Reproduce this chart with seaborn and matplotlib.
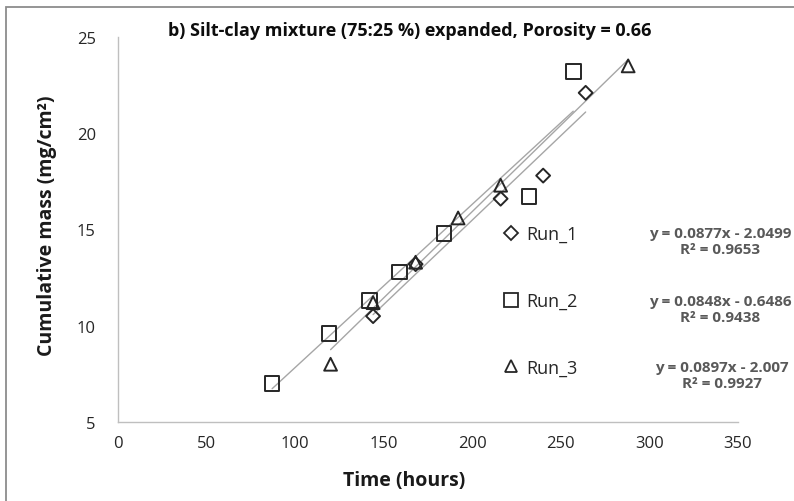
import numpy as np
import pandas as pd
import matplotlib
matplotlib.use("Agg")
import matplotlib.pyplot as plt
from matplotlib.lines import Line2D
from matplotlib.patches import Rectangle
import seaborn as sns

# Measured cumulative mass per run
run1_time = [144, 168, 216, 240, 264]
run1_mass = [10.5, 13.2, 16.6, 17.8, 22.1]
run2_time = [87, 119, 142, 159, 184, 232, 257]
run2_mass = [7.0, 9.6, 11.3, 12.8, 14.8, 16.7, 23.2]
run3_time = [120, 144, 168, 192, 216, 288]
run3_mass = [8.0, 11.2, 13.3, 15.6, 17.3, 23.5]

run_names = ["Run_1", "Run_2", "Run_3"]
# Linear trendline fits (slope, intercept, R²) for each run
fit_slope = [0.0877, 0.0848, 0.0897]
fit_intercept = [-2.0499, -0.6486, -2.007]
fit_r2 = [0.9653, 0.9438, 0.9927]

x_ticks = [0, 50, 100, 150, 200, 250, 300, 350]
y_ticks = [5, 10, 15, 20, 25]

title = "b) Silt-clay mixture (75:25 %) expanded, Porosity = 0.66"

sns.set_theme(style="white")
plt.rcParams["font.family"] = ["Open Sans", "DejaVu Sans"]

W, H = 794, 502
fig = plt.figure(figsize=(W / 100, H / 100), dpi=100)
fig.patch.set_facecolor("white")

def fx(px):
    return px / W

def fy(py):
    return 1 - py / H

ax = fig.add_axes([fx(118), fy(423), (738 - 118) / W, (423 - 38) / H])

frames = []
for name, t, m in zip(run_names,
                      [run1_time, run2_time, run3_time],
                      [run1_mass, run2_mass, run3_mass]):
    frames.append(pd.DataFrame({"run": name, "time": t, "mass": m}))
df = pd.concat(frames, ignore_index=True)

markers = {"Run_1": "D", "Run_2": "s", "Run_3": "^"}
sizes = {"Run_1": 50, "Run_2": 110, "Run_3": 85}
edge = "#262626"
line_grey = "#a6a6a6"

# trendlines over each run's own time range
for name, a, b in zip(run_names, fit_slope, fit_intercept):
    sub = df[df["run"] == name]
    xs = np.array([sub["time"].min(), sub["time"].max()])
    trend = pd.DataFrame({"time": xs, "mass": a * xs + b})
    sns.lineplot(data=trend, x="time", y="mass", ax=ax, color=line_grey,
                 linewidth=1.0, legend=False)

for name in run_names:
    sub = df[df["run"] == name]
    sns.scatterplot(data=sub, x="time", y="mass", ax=ax, marker=markers[name],
                    s=sizes[name], color=edge, linewidth=1.4, legend=False,
                    zorder=3)
for coll in ax.collections:
    coll.set_facecolor("none")
    coll.set_edgecolor(edge)

ax.set_xlim(0, 350)
ax.set_ylim(5, 25)
ax.set_xticks(x_ticks)
ax.set_yticks(y_ticks)
ax.set_xticklabels([str(v) for v in x_ticks])
ax.set_yticklabels([str(v) for v in y_ticks])
ax.tick_params(axis="both", which="major", labelsize=12, colors="#bfbfbf",
               labelcolor="#262626", length=6, width=1, direction="out")
ax.tick_params(axis="y", pad=10)
ax.tick_params(axis="x", pad=3)
sns.despine(ax=ax)
for side in ["left", "bottom"]:
    ax.spines[side].set_color("#bfbfbf")
    ax.spines[side].set_linewidth(1.0)
ax.grid(False)
ax.set_xlabel("")
ax.set_ylabel("")

fig.text(fx(404), fy(481), "Time (hours)", ha="center", va="center",
         fontsize=14, fontweight="bold", color="#1a1a1a")
fig.text(fx(47), fy(226), "Cumulative mass (mg/cm²)", ha="center",
         va="center", rotation=90, fontsize=14, fontweight="bold",
         color="#1a1a1a")
fig.text(fx(410), fy(31), title, ha="center", va="center", fontsize=13,
         fontweight="bold", color="#0d0d0d")

handles = [Line2D([], [], linestyle="none", marker=markers[n],
                  markerfacecolor="none", markeredgecolor=edge,
                  markeredgewidth=1.3,
                  markersize={"Run_1": 7, "Run_2": 10, "Run_3": 9}[n])
           for n in run_names]
fig.legend(handles, run_names, loc="center left",
           bbox_to_anchor=(fx(502), fy(302)), frameon=False, fontsize=13,
           labelspacing=2.7, handlelength=1.0, handletextpad=0.35,
           borderpad=0, borderaxespad=0, labelcolor="#262626")

eq_pos = [(720, 242), (720, 310), (722, 376)]
for (px, py), a, b, r2 in zip(eq_pos, fit_slope, fit_intercept, fit_r2):
    sign = "-" if b < 0 else "+"
    txt = f"y = {a:.4f}x {sign} {abs(b):g}\nR² = {r2:.4f}"
    fig.text(fx(px), fy(py), txt, ha="center", va="center", fontsize=11,
             fontweight="bold", color="#595959", linespacing=1.15)

# chart area border
fig.add_artist(Rectangle((fx(6), -0.1), 1.2, fy(8) + 0.1,
                         transform=fig.transFigure, fill=False,
                         edgecolor="#8c8c8c", linewidth=1.3))

fig.savefig("out.png", dpi=100)
